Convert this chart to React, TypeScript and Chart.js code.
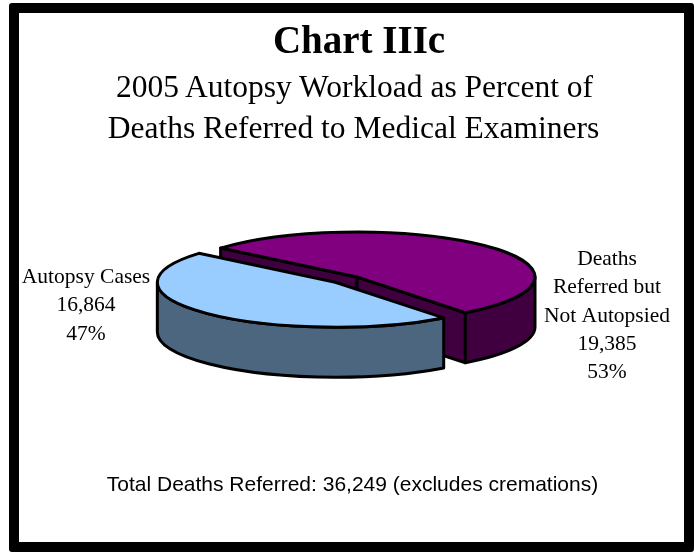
import React, { useEffect, useRef } from "react";
import { Chart, registerables } from "chart.js";

Chart.register(...registerables);

// ---------- data ----------
const categories = ["Autopsy Cases", "Deaths Referred but Not Autopsied"];
const caseCounts = [16864, 19385];
const topColors = ["#99CCFF", "#800080"];
const sideColors = ["#4D6680", "#400040"];
const sliceExplode = [30, 0];

const titleText = "Chart IIIc";
const subtitleLines = ["2005 Autopsy Workload as Percent of", "Deaths Referred to Medical Examiners"];
const totalCases = caseCounts.reduce((s, v) => s + v, 0);
const footnoteText = `Total Deaths Referred: ${totalCases.toLocaleString("en-US")} (excludes cremations)`;

// ---------- layout ----------
const W = 694;
const H = 552;
const PIE_CX = 357;
const PIE_CY = 277;
const PIE_R = 178;
const TILT = 45 / 178;
const DEPTH = 50;
const LABEL_FONT = '21.5px "Liberation Serif", "Times New Roman", serif';
const LABEL_LINE = 28.3;
const LABEL_WRAP = 132;
const labelAnchors = [
  { x: 86, y: 283 },
  { x: 607, y: 265 },
];

type Slice = {
  i: number;
  sx: number;
  sy: number;
  R: number;
  a: number;
  b: number;
  mid: number;
};

function center(chart: any) {
  const ca = chart.chartArea;
  return { cx: (ca.left + ca.right) / 2, cy: (ca.top + ca.bottom) / 2 };
}

function getSlices(chart: any): Slice[] {
  const { cy } = center(chart);
  const meta = chart.getDatasetMeta(0);
  return meta.data
    .map((arc: any, i: number) => {
      const mid = (arc.startAngle + arc.endAngle) / 2;
      return {
        i,
        sx: arc.x,
        sy: cy + (arc.y - cy) * TILT,
        R: arc.outerRadius,
        a: arc.startAngle,
        b: arc.endAngle,
        mid,
      } as Slice;
    })
    .sort((p: Slice, q: Slice) => Math.sin(p.mid) - Math.sin(q.mid));
}

function drawWalls(ctx: CanvasRenderingContext2D, s: Slice) {
  const { sx, sy, R, a, b, i } = s;
  const ry = R * TILT;
  ctx.fillStyle = sideColors[i];
  const faces: number[] = [];
  if (Math.cos(a) < 0) faces.push(a);
  if (Math.cos(b) > 0) faces.push(b);
  for (const t of faces) {
    const ex = sx + R * Math.cos(t);
    const ey = sy + ry * Math.sin(t);
    ctx.beginPath();
    ctx.moveTo(sx, sy);
    ctx.lineTo(ex, ey);
    ctx.lineTo(ex, ey + DEPTH);
    ctx.lineTo(sx, sy + DEPTH);
    ctx.closePath();
    ctx.fill();
    ctx.stroke();
  }
  for (let n = -2; n <= 3; n++) {
    const lo = Math.max(a, 2 * Math.PI * n);
    const hi = Math.min(b, 2 * Math.PI * n + Math.PI);
    if (hi > lo) {
      ctx.beginPath();
      ctx.ellipse(sx, sy, R, ry, 0, lo, hi, false);
      ctx.ellipse(sx, sy + DEPTH, R, ry, 0, hi, lo, true);
      ctx.closePath();
      ctx.fill();
      ctx.stroke();
    }
  }
}

function wrapText(ctx: CanvasRenderingContext2D, text: string, maxW: number): string[] {
  const words = text.split(" ");
  const lines: string[] = [];
  let cur = "";
  for (const w of words) {
    const test = cur ? cur + " " + w : w;
    if (cur && ctx.measureText(test).width > maxW) {
      lines.push(cur);
      cur = w;
    } else {
      cur = test;
    }
  }
  if (cur) lines.push(cur);
  return lines;
}

const pie3d = {
  id: "pie3d",
  afterDatasetsUpdate(chart: any) {
    const { cx, cy } = center(chart);
    const meta = chart.getDatasetMeta(0);
    meta.data.forEach((arc: any, i: number) => {
      const mid = (arc.startAngle + arc.endAngle) / 2;
      const e = sliceExplode[i] || 0;
      arc.x = cx + Math.cos(mid) * e;
      arc.y = cy + Math.sin(mid) * e;
    });
  },
  beforeDatasetsDraw(chart: any) {
    const ctx: CanvasRenderingContext2D = chart.ctx;
    const slices = getSlices(chart);
    ctx.save();
    ctx.lineWidth = 3;
    ctx.strokeStyle = "#000";
    ctx.lineJoin = "round";
    for (const s of slices) drawWalls(ctx, s);
    ctx.restore();
    const { cx, cy } = center(chart);
    ctx.save();
    ctx.translate(cx, cy);
    ctx.scale(1, TILT);
    ctx.translate(-cx, -cy);
  },
  afterDatasetsDraw(chart: any) {
    const ctx: CanvasRenderingContext2D = chart.ctx;
    ctx.restore();
    const slices = getSlices(chart);
    ctx.save();
    ctx.lineWidth = 3;
    ctx.strokeStyle = "#000";
    ctx.lineJoin = "round";
    for (const s of slices) {
      ctx.beginPath();
      ctx.moveTo(s.sx, s.sy);
      ctx.ellipse(s.sx, s.sy, s.R, s.R * TILT, 0, s.a, s.b, false);
      ctx.closePath();
      ctx.stroke();
    }
    ctx.restore();
  },
  afterDraw(chart: any) {
    const ctx: CanvasRenderingContext2D = chart.ctx;
    const data = chart.data.datasets[0].data as number[];
    const total = data.reduce((s, v) => s + v, 0);
    ctx.save();
    ctx.font = LABEL_FONT;
    ctx.fillStyle = "#000";
    ctx.textAlign = "center";
    ctx.textBaseline = "alphabetic";
    data.forEach((v, i) => {
      const lines = [
        ...wrapText(ctx, String(chart.data.labels[i]), LABEL_WRAP),
        v.toLocaleString("en-US"),
        Math.round((v / total) * 100) + "%",
      ];
      const anc = labelAnchors[i];
      lines.forEach((ln, j) => ctx.fillText(ln, anc.x, anc.y + j * LABEL_LINE));
    });
    ctx.restore();
  },
};

const serif = '"Liberation Serif", "Times New Roman", serif';
const sans = '"Liberation Sans", Arial, sans-serif';

function TextLine(props: { text: string; cx: number; baseline: number; size: number; family: string; bold?: boolean; ascent: number }) {
  const { text, cx, baseline, size, family, bold, ascent } = props;
  return (
    <div
      style={{
        position: "absolute",
        left: cx - 340,
        width: 680,
        top: baseline - ascent * size,
        fontSize: size,
        lineHeight: `${size}px`,
        fontFamily: family,
        fontWeight: bold ? 700 : 400,
        textAlign: "center",
        whiteSpace: "nowrap",
        color: "#000",
      }}
    >
      {text}
    </div>
  );
}

export default function App() {
  const canvasRef = useRef<HTMLCanvasElement | null>(null);

  useEffect(() => {
    const canvas = canvasRef.current;
    if (!canvas) return;
    const chart = new Chart(canvas, {
      type: "pie",
      data: {
        labels: categories,
        datasets: [
          {
            data: caseCounts,
            backgroundColor: topColors,
            borderWidth: 0,
            offset: 0,
            hoverOffset: 0,
            radius: PIE_R,
            clip: false,
          } as any,
        ],
      },
      options: {
        responsive: false,
        animation: false,
        rotation: 142.5,
        layout: {
          padding: { left: 2 * PIE_CX - W, right: 0, top: 2 * PIE_CY - H, bottom: 0 },
        },
        events: [],
        plugins: {
          legend: { display: false },
          tooltip: { enabled: false },
          title: { display: false },
        },
      } as any,
      plugins: [pie3d],
    });
    return () => chart.destroy();
  }, []);

  return (
    <div style={{ position: "absolute", left: 0, top: 0, width: W, height: H, background: "#fff", overflow: "hidden" }}>
      <div
        style={{
          position: "absolute",
          left: 9,
          top: 3,
          width: 685,
          height: 549,
          border: "10px solid #000",
          boxSizing: "border-box",
          borderRadius: 3,
        }}
      />
      <canvas ref={canvasRef} width={W} height={H} style={{ position: "absolute", left: 0, top: 0, width: W, height: H }} />
      <TextLine text={titleText} cx={359} baseline={53} size={39} family={serif} bold ascent={0.8375} />
      <TextLine text={subtitleLines[0]} cx={354.5} baseline={97} size={31.5} family={serif} ascent={0.8375} />
      <TextLine text={subtitleLines[1]} cx={353.5} baseline={138} size={31.5} family={serif} ascent={0.8375} />
      <TextLine text={footnoteText} cx={352.5} baseline={491} size={21} family={sans} ascent={0.8465} />
    </div>
  );
}
